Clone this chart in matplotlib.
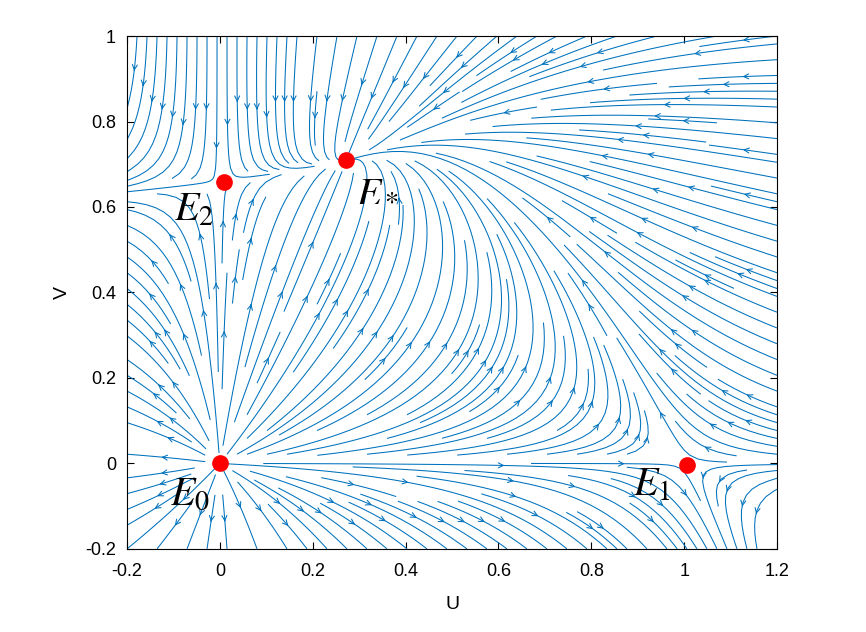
import numpy as np
import matplotlib
matplotlib.use('Agg')
import matplotlib.pyplot as plt

plt.rcParams['font.family'] = ['Liberation Sans', 'DejaVu Sans']
plt.rcParams['mathtext.fontset'] = 'stix'

# Equilibria
eq_u = [0.0, 1.006, 0.009, 0.272]
eq_v = [0.0, -0.003, 0.658, 0.710]
eq_labels = [r'$E_0$', r'$E_1$', r'$E_2$', r'$E_*$']
label_u = [-0.065, 0.93, -0.055, 0.34]
label_v = [-0.07, -0.05, 0.595, 0.64]

# model parameters (competition-type system giving the equilibria above)
K = 0.66
a = (1 - eq_u[3]) / eq_v[3]
b = (eq_v[3] / K - 1) / eq_u[3]

u = np.linspace(-0.2, 1.2, 200)
v = np.linspace(-0.2, 1.0, 200)
U, V = np.meshgrid(u, v)
dU = U * (1 - U - a * V)
dV = V * (1 - V / K + b * U)

fig, ax = plt.subplots(figsize=(8.66, 6.32), dpi=100)
fig.subplots_adjust(left=0.1467, right=0.8972, top=0.943, bottom=0.1315)
ax.streamplot(U, V, dU, dV, density=2.2, color='#0072BD', linewidth=0.75,
              arrowsize=0.9, arrowstyle='->')
ax.plot(eq_u, eq_v, 'o', color='red', markersize=11, zorder=5)
for x, y, s in zip(label_u, label_v, eq_labels):
    ax.text(x, y, s, fontsize=29, ha='center', va='center')

ax.set_xlim(-0.2, 1.2)
ax.set_ylim(-0.2, 1.0)
ax.set_xticks(np.arange(-0.2, 1.21, 0.2))
ax.set_xticklabels(['-0.2', '0', '0.2', '0.4', '0.6', '0.8', '1', '1.2'])
ax.set_yticks(np.arange(-0.2, 1.01, 0.2))
ax.set_yticklabels(['-0.2', '0', '0.2', '0.4', '0.6', '0.8', '1'])
ax.tick_params(direction='in', top=True, right=True, labelsize=13, length=5)
ax.tick_params(axis='x', pad=10)
ax.tick_params(axis='y', pad=8)
ax.set_xlabel('U', fontsize=14, labelpad=12)
ax.set_ylabel('V', fontsize=14, labelpad=10)

plt.savefig('out.png')
